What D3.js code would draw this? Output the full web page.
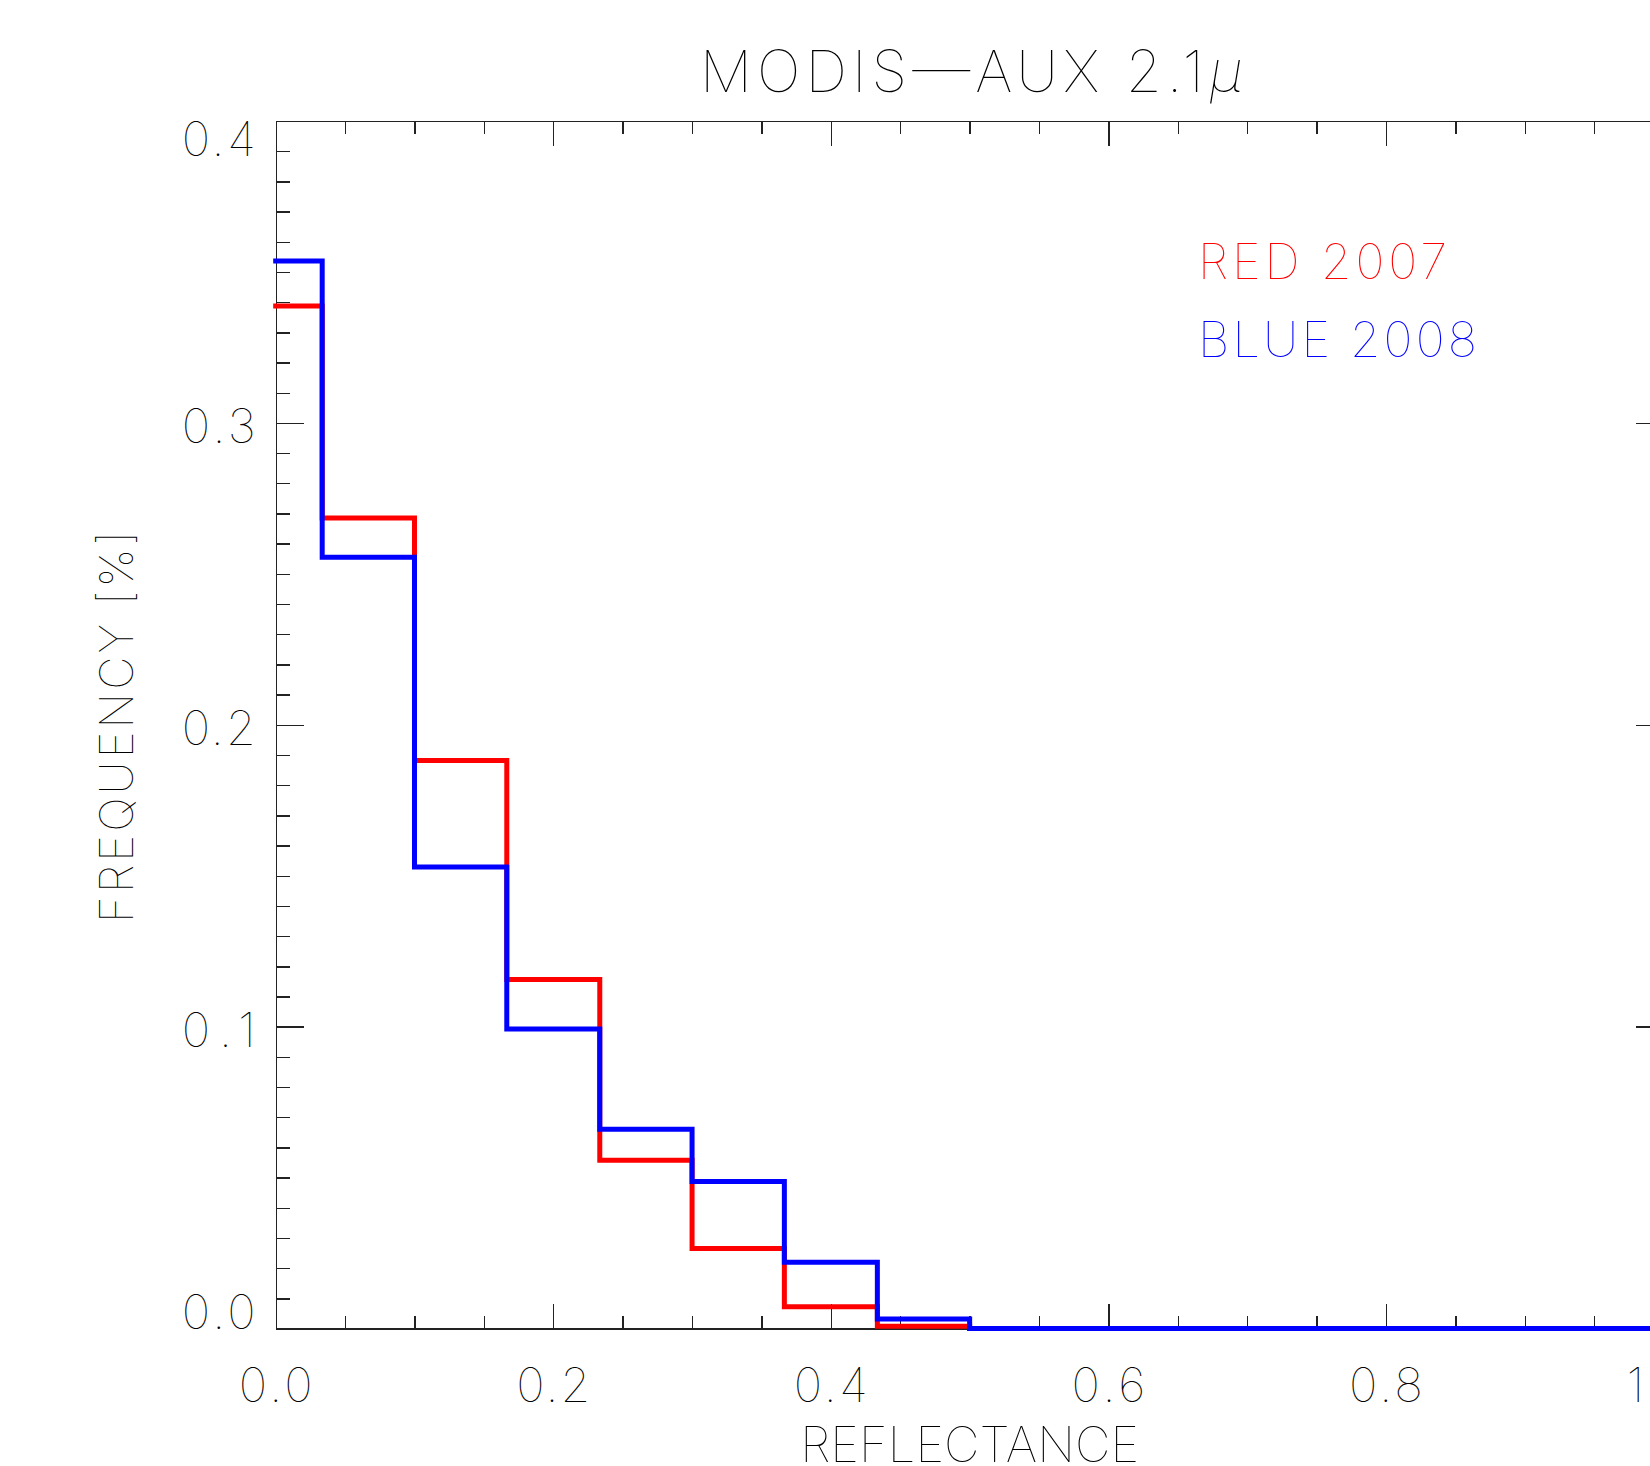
<!DOCTYPE html>
<html>
<head>
<meta charset="utf-8">
<script src="https://cdnjs.cloudflare.com/ajax/libs/d3/7.8.5/d3.min.js"></script>
<style>
  body { margin: 0; background: #fff; overflow: hidden; }
  text { font-family: Inter, "Open Sans", "DejaVu Sans", sans-serif; font-weight: 100; fill: #000; }
  .axis path, .axis line { stroke: #222; stroke-width: 1.4; shape-rendering: crispEdges; }
  .line { fill: none; stroke-width: 5; stroke-linejoin: miter; stroke-linecap: square; }
</style>
</head>
<body>
<div id="graphed"></div>
<script>
// bin centres of the histogram (reflectance)
var binCenters = [0.000, 0.067, 0.133, 0.200, 0.267, 0.333, 0.400, 0.467,
                  0.533, 0.600, 0.667, 0.733, 0.800, 0.867, 0.933, 1.000];

// frequency per bin
var red2007  = [0.3387, 0.2685, 0.1882, 0.1156, 0.0558, 0.0265, 0.0072, 0.0008,
                0, 0, 0, 0, 0, 0, 0, 0];
var blue2008 = [0.3536, 0.2555, 0.1529, 0.0992, 0.0660, 0.0487, 0.0220, 0.0032,
                0, 0, 0, 0, 0, 0, 0, 0];

// tick labels
var xMajor = [0.0, 0.2, 0.4, 0.6, 0.8, 1.0];
var yMajor = [0.0, 0.1, 0.2, 0.3, 0.4];
var xMinorStep = 0.05, yMinorStep = 0.01;

var series = [
  {name: "RED 2007",  color: "#ff0000", values: red2007},
  {name: "BLUE 2008", color: "#0000ff", values: blue2008}
];

// set the dimensions and margins of the graph
var margin = {top: 121, right: -13.6, bottom: 137.4, left: 275.7},
    width = 1650 - margin.left - margin.right,
    height = 1466 - margin.top - margin.bottom;

// set the ranges
var x = d3.scaleLinear().domain([0, 1]).range([0, width]);
var y = d3.scaleLinear().domain([0, 0.4]).range([height, 0]);

var svg = d3.select("#graphed").append("svg")
    .attr("width", 1650)
    .attr("height", 1466)
  .append("g")
    .attr("transform", "translate(" + margin.left + "," + margin.top + ")");

var xMinor = d3.range(0, 1 + 1e-9, xMinorStep);
var yMinor = d3.range(0, 0.4 + 1e-9, yMinorStep);

// axes: major + minor ticks on all four sides, pointing inwards
var xMajLen = 25, xMinLen = 12.5, yMajLen = 28, yMinLen = 14;

svg.append("g").attr("class", "axis")
    .attr("transform", "translate(0," + height + ")")
    .call(d3.axisBottom(x).tickValues(xMinor).tickSize(-xMinLen).tickSizeOuter(0).tickFormat(""));
svg.append("g").attr("class", "axis")
    .attr("transform", "translate(0," + height + ")")
    .call(d3.axisBottom(x).tickValues(xMajor).tickSize(-xMajLen).tickSizeOuter(0).tickFormat(""));
svg.append("g").attr("class", "axis")
    .call(d3.axisTop(x).tickValues(xMinor).tickSize(-xMinLen).tickSizeOuter(0).tickFormat(""));
svg.append("g").attr("class", "axis")
    .call(d3.axisTop(x).tickValues(xMajor).tickSize(-xMajLen).tickSizeOuter(0).tickFormat(""));

svg.append("g").attr("class", "axis")
    .call(d3.axisLeft(y).tickValues(yMinor).tickSize(-yMinLen).tickSizeOuter(0).tickFormat(""));
svg.append("g").attr("class", "axis")
    .call(d3.axisLeft(y).tickValues(yMajor).tickSize(-yMajLen).tickSizeOuter(0).tickFormat(""));
svg.append("g").attr("class", "axis")
    .attr("transform", "translate(" + width + ",0)")
    .call(d3.axisRight(y).tickValues(yMinor).tickSize(-yMinLen).tickSizeOuter(0).tickFormat(""));
svg.append("g").attr("class", "axis")
    .attr("transform", "translate(" + width + ",0)")
    .call(d3.axisRight(y).tickValues(yMajor).tickSize(-yMajLen).tickSizeOuter(0).tickFormat(""));

// tick labels
var fmt = d3.format(".1f");
svg.selectAll(".xlab").data(xMajor).enter().append("text")
    .attr("class", "xlab")
    .attr("x", function(d) { return x(d); })
    .attr("y", height + 73)
    .attr("text-anchor", "middle")
    .style("font-size", "48px")
    .attr("textLength", 74).attr("lengthAdjust", "spacing")
    .text(fmt);

svg.selectAll(".ylab").data(yMajor).enter().append("text")
    .attr("class", "ylab")
    .attr("x", -20)
    .attr("y", function(d, i) {
      // end labels are pushed inside the axis range
      var off = 20.5;
      if (i === 0) off = 0.5;
      if (i === yMajor.length - 1) off = 35;
      return y(d) + off;
    })
    .attr("text-anchor", "end")
    .style("font-size", "48px")
    .attr("textLength", 74).attr("lengthAdjust", "spacing")
    .text(fmt);

// define the step line (histogram style)
var valueline = d3.line()
    .curve(d3.curveStep)
    .x(function(d, i) { return x(binCenters[i]); })
    .y(function(d) { return y(d); });

svg.selectAll(".line").data(series).enter().append("path")
    .attr("class", "line")
    .attr("stroke", function(d) { return d.color; })
    .attr("d", function(d) { return valueline(d.values); });

// legend
svg.selectAll(".legend").data(series).enter().append("text")
    .attr("class", "legend")
    .attr("x", 1198 - margin.left)
    .attr("y", function(d, i) { return 279 - margin.top + i * 77.7; })
    .style("font-size", "49px")
    .style("fill", function(d) { return d.color; })
    .attr("textLength", function(d, i) { return i === 0 ? 249 : 279; })
    .attr("lengthAdjust", "spacing")
    .text(function(d) { return d.name; });

// title
var title = svg.append("text")
    .attr("x", 971.5 - margin.left)
    .attr("y", 92 - margin.top)
    .attr("text-anchor", "middle")
    .style("font-size", "58px")
    .attr("textLength", 543).attr("lengthAdjust", "spacing");
title.append("tspan").text("MODIS\u2014AUX 2.1");
title.append("tspan").style("font-style", "italic").text("\u03bc");

// axis titles
svg.append("text")
    .attr("x", width / 2)
    .attr("y", 1462 - margin.top)
    .attr("text-anchor", "middle")
    .style("font-size", "49px")
    .attr("textLength", 339).attr("lengthAdjust", "spacing")
    .text("REFLECTANCE");

svg.append("text")
    .attr("transform", "translate(" + (133 - margin.left) + "," + (727 - margin.top) + ") rotate(-90)")
    .attr("text-anchor", "middle")
    .style("font-size", "46px")
    .attr("textLength", 392).attr("lengthAdjust", "spacing")
    .text("FREQUENCY [%]");
</script>
</body>
</html>
